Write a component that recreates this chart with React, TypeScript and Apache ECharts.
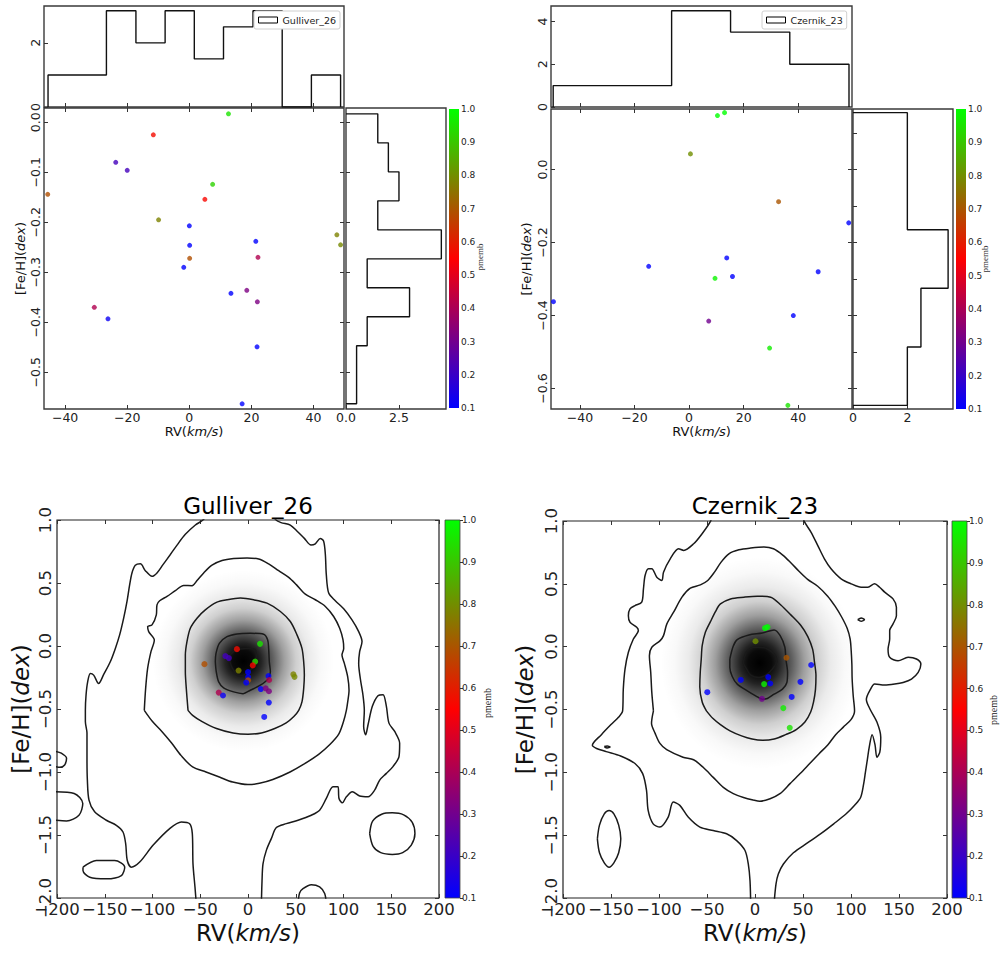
import React, { useEffect, useRef } from 'react';
import * as echarts from 'echarts';

// ---------------- data: Gulliver_26 ----------------
const G_RV = [12.6, -11.6, -23.7, -20.0, 7.5, -45.6, 5.0, -9.9, 0.0, 0.1, 0.1, -1.8, 21.4, 22.1, 47.5, 48.7, 13.4, 18.5, 21.9, -30.6, -26.2, 21.8, 17.0];
const G_FEH = [0.017, -0.025, -0.080, -0.096, -0.124, -0.144, -0.154, -0.195, -0.207, -0.246, -0.272, -0.290, -0.238, -0.270, -0.225, -0.245, -0.342, -0.336, -0.359, -0.370, -0.393, -0.449, -0.563];
const G_PMEMB = [0.95, 0.57, 0.22, 0.22, 0.92, 0.69, 0.56, 0.78, 0.1, 0.1, 0.69, 0.1, 0.1, 0.41, 0.78, 0.79, 0.1, 0.32, 0.32, 0.41, 0.12, 0.1, 0.1];
const G_RV_EDGES = [-45.5, -36.1, -26.7, -17.2, -7.8, 1.6, 11.0, 20.5, 29.9, 39.3, 48.7];
const G_RV_COUNTS = [1, 1, 3, 2, 3, 1.5, 2.5, 3, 0, 1];
const G_FEH_EDGES = [0.017, -0.041, -0.099, -0.157, -0.215, -0.273, -0.331, -0.389, -0.447, -0.505, -0.563];
const G_FEH_COUNTS = [1.5, 2, 2.5, 1.5, 4.5, 1, 3, 1, 0.5, 0.5];
const G_PEAK = [-5, -0.12];

// ---------------- data: Czernik_23 ----------------
const C_RV = [10.4, 13.0, 0.5, 32.8, 58.5, -14.8, 13.8, 15.9, 9.5, 47.3, -49.7, 38.2, 7.2, 29.5, 36.2];
const C_FEH = [0.148, 0.156, 0.043, -0.088, -0.146, -0.265, -0.242, -0.293, -0.298, -0.280, -0.362, -0.400, -0.415, -0.489, -0.646];
const C_PMEMB = [1.0, 1.0, 0.8, 0.7, 0.1, 0.1, 0.1, 0.1, 0.98, 0.1, 0.1, 0.1, 0.3, 0.97, 0.95];
const C_RV_EDGES = [-49.8, -28.1, -6.4, 15.2, 36.9, 58.6];
const C_RV_COUNTS = [1, 1, 4.5, 3.5, 2];
const C_FEH_EDGES = [0.156, -0.004, -0.165, -0.325, -0.486, -0.646];
const C_FEH_COUNTS = [2, 2, 3.5, 2.5, 2];
const C_PEAK = [5, -0.13];

// ---------------- tick values ----------------
const G_RV_TICKS = [-40, -20, 0, 20, 40];
const G_FEH_TICKS = [0, -0.1, -0.2, -0.3, -0.4, -0.5];
const G_HISTY_TICKS = [0, 2];
const G_HISTX_TICKS = [0, 2.5];
const C_RV_TICKS = [-40, -20, 0, 20, 40];
const C_FEH_TICKS = [0, -0.2, -0.4, -0.6];
const C_FEH_MINOR = [0.1, 0, -0.1, -0.2, -0.3, -0.4, -0.5, -0.6];
const C_HISTY_TICKS = [0, 2, 4];
const C_HISTX_TICKS = [0, 2];
const CB_TICKS = [0.1, 0.2, 0.3, 0.4, 0.5, 0.6, 0.7, 0.8, 0.9, 1.0];
const BIG_RV_TICKS = [-200, -150, -100, -50, 0, 50, 100, 150, 200];
const BIG_FEH_TICKS = [1, 0.5, 0, -0.5, -1, -1.5, -2];

// ---------------- contours: Gulliver_26 ----------------
const G_A = [[-20.2,-0.085],[-15,-0.045],[-8,-0.024],[0.7,-0.019],[7.7,-0.032],[8.7,-0.085],[6.6,-0.146],[1.7,-0.199],[-4.5,-0.231],[-9.8,-0.237],[-14,-0.205],[-17.8,-0.152],[-20.2,-0.085]];
const G_B = [[-34.2,-0.125],[-33.5,-0.059],[-30,0.021],[-22,0.074],[-11.5,0.096],[2.4,0.101],[16.4,0.093],[20.6,0.048],[21.6,-0.019],[22.3,-0.125],[23.4,-0.205],[20.9,-0.263],[12.9,-0.311],[2.4,-0.351],[-5.2,-0.378],[-15,-0.364],[-25.5,-0.332],[-30.7,-0.285],[-33.2,-0.205],[-34.2,-0.125]];
const G_C = [[-62.8,-0.511],[-64.6,-0.338],[-65.6,-0.205],[-65.6,-0.072],[-63.9,0.035],[-60.4,0.141],[-53.4,0.221],[-44.7,0.287],[-32.5,0.348],[-22,0.367],[-8,0.38],[5.9,0.367],[19.9,0.34],[33.9,0.274],[44.3,0.194],[51.3,0.088],[56.5,-0.019],[58.3,-0.125],[59,-0.231],[58.3,-0.338],[56.5,-0.444],[53.1,-0.511],[48,-0.56],[40,-0.61],[28,-0.655],[14,-0.69],[0,-0.7],[-15.7,-0.69],[-33,-0.655],[-48,-0.6],[-58,-0.55],[-62.8,-0.511]];
const G_D = [[-108.6,-0.511],[-107.2,-0.338],[-105.1,-0.178],[-101.6,-0.045],[-98.1,0.048],[-104,0.114],[-105.1,0.154],[-100.5,0.168],[-96,0.247],[-95.3,0.327],[-92.5,0.359],[-84.8,0.394],[-76.1,0.439],[-67.4,0.481],[-58.6,0.479],[-53.4,0.519],[-46.4,0.58],[-37.7,0.641],[-27.2,0.678],[-15,0.694],[-1,0.699],[11.2,0.691],[21.6,0.652],[32.1,0.598],[42.6,0.545],[50.6,0.487],[60,0.412],[70.5,0.367],[81,0.314],[89.7,0.234],[96,0.141],[99.5,0.048],[100.2,-0.019],[98.4,-0.072],[100.9,-0.138],[104.4,-0.245],[105.8,-0.351],[104.4,-0.444],[103,-0.511],[100,-0.6],[95,-0.7],[86,-0.78],[74,-0.86],[58,-0.94],[44,-1.0],[26,-1.06],[12,-1.09],[0,-1.1],[-16,-1.08],[-30,-1.04],[-44,-1.0],[-58,-0.96],[-70,-0.87],[-80,-0.77],[-90,-0.68],[-100,-0.6],[-108.6,-0.511]];
const G_E1 = [[-44,1.06],[-46.4,1.005],[-55.1,0.96],[-65.6,0.886],[-74.3,0.801],[-81.3,0.726],[-89,0.646],[-95.3,0.58],[-100.5,0.553],[-107.5,0.598],[-112.7,0.652],[-118,0.641],[-121.5,0.58],[-123.9,0.487],[-126.7,0.354],[-130.2,0.221],[-134.4,0.088],[-138.9,-0.019],[-144.2,-0.125],[-151.1,-0.226],[-156.4,-0.298],[-161.6,-0.231],[-165.1,-0.218],[-167.9,-0.285],[-169.6,-0.391],[-170.3,-0.511],[-170.3,-0.6],[-168.6,-0.691],[-168.6,-0.904],[-168.2,-1.064],[-166.5,-1.223],[-160.6,-1.316],[-148.3,-1.383],[-137.9,-1.423],[-130.9,-1.476],[-128.1,-1.569],[-126.4,-1.702],[-122.2,-1.755],[-113.4,-1.715],[-99.5,-1.582],[-82,-1.449],[-69.8,-1.396],[-61.1,-1.41],[-58.3,-1.489],[-57.6,-1.729],[-55.5,-1.915],[-54.1,-2.05]];
const G_E2 = [[14,-2.05],[14.7,-1.862],[15.7,-1.729],[19.2,-1.622],[24.4,-1.529],[29.7,-1.441],[40.1,-1.41],[52.4,-1.383],[66.3,-1.343],[75,-1.303],[82,-1.21],[89,-1.117],[94.2,-1.117],[95.3,-1.21],[98.8,-1.245],[103,-1.197],[109.2,-1.157],[116.9,-1.191],[125.7,-1.197],[132.6,-1.144],[137.9,-1.064],[144.9,-1.011],[151.8,-0.957],[158.1,-0.878],[158.8,-0.771],[153.6,-0.678],[147.6,-0.612],[144.9,-0.479],[141.4,-0.386],[136.1,-0.394],[130.2,-0.479],[125.7,-0.625],[123.2,-0.705],[121.1,-0.638],[121.8,-0.511],[120.4,-0.391],[117.6,-0.258],[115.9,-0.138],[116.9,-0.045],[119.4,0.035],[115.9,0.114],[108.9,0.207],[100.2,0.295],[91.4,0.359],[84.5,0.42],[82,0.566],[81,0.726],[79.2,0.832],[75.7,0.854],[70.5,0.811],[66,0.801],[59,0.854],[52,0.907],[44.3,0.96],[34.6,0.979],[28.6,1.005],[26,1.06]];
const G_L1 = [[-202,-0.835],[-195.5,-0.851],[-190,-0.891],[-192,-0.944],[-197,-0.963],[-202,-0.957]];
const G_L2 = [[-202,-1.157],[-182,-1.17],[-173,-1.25],[-177,-1.343],[-190,-1.388],[-202,-1.383]];
const G_L3 = [[-172.8,-1.755],[-158.8,-1.702],[-139.6,-1.702],[-129.1,-1.755],[-132.6,-1.822],[-148.3,-1.848],[-165.7,-1.835],[-172.8,-1.782],[-172.8,-1.755]];
const G_L4 = [[127.4,-1.489],[130.5,-1.39],[140,-1.335],[151.1,-1.324],[163,-1.34],[172,-1.4],[174.8,-1.489],[171,-1.58],[162,-1.64],[151.1,-1.654],[139,-1.64],[131,-1.59],[127.4,-1.489]];
const G_L5 = [[52.4,-2.05],[54,-1.96],[57.6,-1.926],[66.3,-1.894],[75,-1.912],[80.3,-1.965],[82,-2.05]];

// ---------------- contours: Czernik_23 ----------------
const C_A = [[-11.5,-0.098],[-8,-0.032],[0.7,-0.005],[11.2,-0.013],[19.9,-0.059],[22.7,-0.112],[18.2,-0.178],[11.2,-0.226],[4.2,-0.245],[-4.5,-0.226],[-8.7,-0.178],[-12.2,-0.125],[-11.5,-0.098]];
const C_B = [[-26.2,-0.098],[-22.7,0.003],[-18.5,0.056],[-6.3,0.093],[7.7,0.109],[19.9,0.133],[26.2,0.088],[31.1,-0.005],[32.1,-0.098],[33.9,-0.205],[33.2,-0.285],[28.6,-0.338],[19.9,-0.378],[12.9,-0.412],[7.7,-0.418],[0.7,-0.391],[-8,-0.351],[-18.5,-0.298],[-23.7,-0.237],[-26.2,-0.165],[-26.2,-0.098]];
const C_C = [[-50.6,-0.511],[-55,-0.44],[-57.5,-0.32],[-57,-0.2],[-56,-0.1],[-55,0.008],[-51.7,0.114],[-46.4,0.199],[-41.2,0.279],[-36,0.34],[-25.5,0.38],[-11.5,0.394],[2.4,0.402],[16.4,0.394],[26.9,0.332],[37.3,0.253],[47.8,0.168],[55,0.08],[60,-0.02],[62,-0.125],[63.5,-0.23],[63,-0.34],[61,-0.44],[58,-0.52],[52,-0.6],[43,-0.66],[32,-0.7],[20,-0.735],[8,-0.745],[-3,-0.735],[-14,-0.71],[-26,-0.67],[-36,-0.62],[-44,-0.57],[-50.6,-0.511]];
const C_D = [[-105.8,-0.511],[-107.5,-0.364],[-108.6,-0.205],[-110,-0.072],[-107.5,-0.005],[-98.8,0.048],[-95.3,0.088],[-91.8,0.181],[-84.8,0.274],[-76.1,0.394],[-67.4,0.465],[-56.9,0.492],[-49.2,0.527],[-42.2,0.593],[-35.3,0.673],[-27.2,0.739],[-16.8,0.771],[-4.5,0.785],[9.4,0.793],[19.2,0.779],[28.6,0.731],[37.3,0.668],[46.1,0.598],[54.8,0.535],[65.3,0.481],[75.7,0.402],[83.4,0.322],[90.4,0.234],[96,0.146],[99.1,0.061],[100.2,-0.032],[100.9,-0.138],[101.2,-0.258],[102.3,-0.391],[103.7,-0.511],[100,-0.58],[92,-0.64],[84,-0.7],[76,-0.78],[67,-0.85],[57,-0.93],[47,-1.01],[36.5,-1.09],[26,-1.17],[15.7,-1.21],[5,-1.23],[-2,-1.22],[-12,-1.2],[-22.6,-1.17],[-33,-1.12],[-43.5,-1.04],[-54,-0.96],[-64,-0.9],[-75,-0.88],[-92,-0.82],[-99,-0.77],[-104,-0.69],[-107.8,-0.61],[-105.8,-0.511]];
const C_E1 = [[-44,1.06],[-46.4,0.997],[-55.1,0.899],[-63.9,0.819],[-74.3,0.766],[-79.6,0.779],[-88.3,0.699],[-95.3,0.593],[-97,0.527],[-102.3,0.553],[-107.5,0.62],[-111,0.62],[-114.5,0.566],[-116.2,0.46],[-118,0.354],[-125,0.327],[-130.2,0.301],[-131.9,0.247],[-130.2,0.194],[-123.2,0.154],[-121.5,0.128],[-126.7,0.061],[-131.9,-0.045],[-135.4,-0.178],[-137.2,-0.338],[-137.9,-0.511],[-142,-0.56],[-150,-0.62],[-160,-0.7],[-169.4,-0.785],[-165,-0.81],[-155,-0.835],[-140,-0.87],[-125,-0.93],[-117,-1.01],[-113,-1.144],[-111.3,-1.303],[-106.1,-1.41],[-99.1,-1.436],[-90.4,-1.356],[-85.2,-1.237],[-78.3,-1.263],[-69.6,-1.356],[-57.4,-1.436],[-43.5,-1.463],[-29.6,-1.489],[-19.1,-1.543],[-10.4,-1.622],[-7,-1.729],[-5.2,-1.862],[-4.5,-2.05]];
const C_E2 = [[19.8,-2.05],[21.9,-1.888],[24.3,-1.809],[29.6,-1.729],[40,-1.64],[55,-1.56],[70,-1.48],[82,-1.41],[95,-1.33],[104,-1.26],[110,-1.2],[113,-1.1],[115,-1.0],[117,-0.9],[119,-0.8],[122,-0.7],[125,-0.78],[127,-0.88],[130,-0.84],[131,-0.72],[127,-0.6],[120,-0.5],[116,-0.42],[120.4,-0.338],[124.6,-0.298],[135,-0.306],[145.5,-0.298],[154.3,-0.285],[163,-0.258],[170,-0.205],[172.8,-0.138],[168.2,-0.098],[159.5,-0.085],[149,-0.112],[140.3,-0.085],[138.6,-0.019],[140.3,0.061],[140.3,0.128],[143.8,0.181],[147.3,0.247],[147.3,0.314],[143.8,0.38],[135.1,0.434],[129.8,0.473],[124.6,0.5],[117.6,0.473],[110.6,0.473],[100.2,0.5],[89.7,0.54],[79.2,0.62],[72.3,0.699],[65.3,0.806],[58.3,0.912],[51.3,0.997],[49,1.06]];
const C_L1 = [[107,0.215],[110.6,0.228],[114,0.215],[110.6,0.202],[107,0.215]];
const C_L2 = [[-157,-0.795],[-154,-0.79],[-151,-0.798],[-154,-0.806],[-157,-0.795]];
const C_L3 = [[-164.2,-1.529],[-162,-1.42],[-157,-1.33],[-152,-1.303],[-147,-1.33],[-142,-1.42],[-139.8,-1.529],[-142,-1.64],[-147,-1.72],[-152,-1.755],[-157,-1.72],[-162,-1.64],[-164.2,-1.529]];

const G_CONTOURS = [G_A, G_B, G_C, G_D, G_E1, G_E2, G_L1, G_L2, G_L3, G_L4, G_L5];
const C_CONTOURS = [C_A, C_B, C_C, C_D, C_E1, C_E2, C_L1, C_L2, C_L3];

// ---------------- helpers ----------------
const FONT = 'DejaVu Sans';
const fmt = (d: number) => (v: number) => {
  const r = Math.abs(v) < 1e-9 ? 0 : v;
  return r.toFixed(d).replace('-', '\u2212');
};
const stepX = (edges: number[], counts: number[]) => {
  const pts: number[][] = [[edges[0], 0]];
  counts.forEach((c, i) => { pts.push([edges[i], c]); pts.push([edges[i + 1], c]); });
  pts.push([edges[edges.length - 1], 0]);
  return pts;
};
const stepY = (edges: number[], counts: number[]) => {
  const pts: number[][] = [[0, edges[0]]];
  counts.forEach((c, i) => { pts.push([c, edges[i]]); pts.push([c, edges[i + 1]]); });
  pts.push([0, edges[edges.length - 1]]);
  return pts;
};

function mkAxis(gridIndex: number, position: string, min: number, max: number, o: any = {}) {
  const a: any = {
    type: 'value', gridIndex, position, min, max,
    axisLine: { show: false, onZero: false }, splitLine: { show: false },
    axisTick: { show: false }, axisLabel: { show: false },
  };
  if (o.hidden) a.show = false;
  if (o.ticks) a.axisTick = { show: true, inside: !o.out, length: o.tl ?? 4, customValues: o.ticks, lineStyle: { color: '#333', width: 1 } };
  if (o.labels) a.axisLabel = { show: true, customValues: o.labels, formatter: o.fmt, fontSize: o.fs, color: '#222', fontFamily: FONT, margin: o.margin ?? 3, rotate: o.rotate ?? 0 };
  if (o.name) {
    a.name = o.name; a.nameLocation = 'middle'; a.nameGap = o.gap;
    a.nameTextStyle = { fontSize: o.nfs, color: '#111', fontFamily: FONT, rich: { i: { fontSize: o.nfs, fontStyle: 'italic', fontFamily: FONT, color: '#111' } } };
  }
  return a;
}

const brg = () => new echarts.graphic.LinearGradient(0, 1, 0, 0, [
  { offset: 0, color: '#0000ff' }, { offset: 0.5, color: '#ff0000' }, { offset: 1, color: '#00ff00' },
]);
const blob = () => new echarts.graphic.RadialGradient(0.5, 0.5, 0.5, [
  { offset: 0, color: 'rgba(0,0,0,1)' },
  { offset: 0.12, color: 'rgba(0,0,0,0.96)' },
  { offset: 0.2, color: 'rgba(0,0,0,0.86)' },
  { offset: 0.33, color: 'rgba(0,0,0,0.62)' },
  { offset: 0.45, color: 'rgba(0,0,0,0.38)' },
  { offset: 0.58, color: 'rgba(0,0,0,0.19)' },
  { offset: 0.72, color: 'rgba(0,0,0,0.08)' },
  { offset: 0.86, color: 'rgba(0,0,0,0.025)' },
  { offset: 1, color: 'rgba(0,0,0,0)' },
]);

function buildOption() {
  const gTop = { show: true, borderColor: '#3a3a3a', borderWidth: 1.4 };
  const gBig = { show: true, borderColor: '#222', borderWidth: 1.2 };
  const grid = [
    { left: 44, top: 6, width: 300, height: 101, ...gTop },
    { left: 44, top: 108, width: 300, height: 301, ...gTop },
    { left: 346, top: 108, width: 100, height: 301, ...gTop },
    { left: 449, top: 109, width: 10, height: 299, show: true, borderWidth: 0, backgroundColor: brg() },
    { left: 551, top: 6, width: 301, height: 101, ...gTop },
    { left: 551, top: 109, width: 301, height: 300, ...gTop },
    { left: 853, top: 109, width: 100, height: 300, ...gTop },
    { left: 956, top: 109, width: 10, height: 300, show: true, borderWidth: 0, backgroundColor: brg() },
    { left: 57, top: 520, width: 382, height: 378, ...gBig },
    { left: 445, top: 520, width: 15, height: 378, show: true, borderColor: '#444', borderWidth: 0.8, backgroundColor: brg() },
    { left: 563, top: 521, width: 384, height: 377, ...gBig },
    { left: 952, top: 521, width: 15, height: 377, show: true, borderColor: '#444', borderWidth: 0.8, backgroundColor: brg() },
  ];

  const GX = [-46.8, 49.8], GY = [-0.5734, 0.0287];
  const CX = [-50.6, 59.7], CY = [-0.656, 0.166];
  const rvName = 'RV({i|km/s})';
  const fehName = '[Fe/H]({i|dex})';

  const xAxis = [
    mkAxis(0, 'bottom', GX[0], GX[1], { ticks: G_RV_TICKS }),
    mkAxis(1, 'bottom', GX[0], GX[1], { ticks: G_RV_TICKS, labels: G_RV_TICKS, fmt: fmt(0), fs: 12.5, margin: 2, name: rvName, gap: 13, nfs: 13 }),
    mkAxis(1, 'top', GX[0], GX[1], { ticks: G_RV_TICKS }),
    mkAxis(2, 'bottom', 0, 4.72, { ticks: G_HISTX_TICKS, labels: G_HISTX_TICKS, fmt: fmt(1), fs: 12.5, margin: 2 }),
    mkAxis(3, 'bottom', 0, 1, { hidden: true }),
    mkAxis(4, 'bottom', CX[0], CX[1], { ticks: C_RV_TICKS }),
    mkAxis(5, 'bottom', CX[0], CX[1], { ticks: C_RV_TICKS, labels: C_RV_TICKS, fmt: fmt(0), fs: 12.5, margin: 2, name: rvName, gap: 13, nfs: 13 }),
    mkAxis(5, 'top', CX[0], CX[1], { ticks: C_RV_TICKS }),
    mkAxis(6, 'bottom', 0, 3.68, { ticks: C_HISTX_TICKS, labels: C_HISTX_TICKS, fmt: fmt(0), fs: 12.5, margin: 2 }),
    mkAxis(7, 'bottom', 0, 1, { hidden: true }),
    mkAxis(8, 'bottom', -200, 200, { ticks: BIG_RV_TICKS, labels: BIG_RV_TICKS, fmt: fmt(0), fs: 16.5, margin: 3, name: rvName, gap: 23, nfs: 23 }),
    mkAxis(8, 'top', -200, 200, { ticks: BIG_RV_TICKS }),
    mkAxis(9, 'bottom', 0, 1, { hidden: true }),
    mkAxis(10, 'bottom', -200, 200, { ticks: BIG_RV_TICKS, labels: BIG_RV_TICKS, fmt: fmt(0), fs: 16.5, margin: 3, name: rvName, gap: 23, nfs: 23 }),
    mkAxis(10, 'top', -200, 200, { ticks: BIG_RV_TICKS }),
    mkAxis(11, 'bottom', 0, 1, { hidden: true }),
  ];
  const yAxis = [
    mkAxis(0, 'left', 0, 3.15, { ticks: G_HISTY_TICKS, labels: G_HISTY_TICKS, fmt: fmt(0), fs: 12.5, margin: 2, rotate: 90 }),
    mkAxis(1, 'left', GY[0], GY[1], { ticks: G_FEH_TICKS, labels: G_FEH_TICKS, fmt: fmt(1), fs: 12.5, margin: 2, rotate: 90, name: fehName, gap: 17, nfs: 13 }),
    mkAxis(1, 'right', GY[0], GY[1], { ticks: G_FEH_TICKS }),
    mkAxis(2, 'left', GY[0], GY[1], { ticks: G_FEH_TICKS }),
    mkAxis(3, 'right', 0.1, 1.0, { labels: CB_TICKS, fmt: fmt(1), fs: 9, margin: 2 }),
    mkAxis(4, 'left', 0, 4.72, { ticks: C_HISTY_TICKS, labels: C_HISTY_TICKS, fmt: fmt(0), fs: 12.5, margin: 2, rotate: 90 }),
    mkAxis(5, 'left', CY[0], CY[1], { ticks: C_FEH_TICKS, labels: C_FEH_TICKS, fmt: fmt(1), fs: 12.5, margin: 2, rotate: 90, name: fehName, gap: 18, nfs: 13 }),
    mkAxis(5, 'right', CY[0], CY[1], { ticks: C_FEH_TICKS }),
    mkAxis(6, 'left', CY[0], CY[1], { ticks: C_FEH_MINOR }),
    mkAxis(7, 'right', 0.1, 1.0, { labels: CB_TICKS, fmt: fmt(1), fs: 9, margin: 2 }),
    mkAxis(8, 'left', -2, 1, { ticks: BIG_FEH_TICKS, labels: BIG_FEH_TICKS, fmt: fmt(1), fs: 16.5, margin: 3, rotate: 90, name: fehName, gap: 25, nfs: 23 }),
    mkAxis(8, 'right', -2, 1, { ticks: BIG_FEH_TICKS }),
    mkAxis(9, 'right', 0.1, 1.0, { ticks: CB_TICKS, out: true, tl: 3, labels: CB_TICKS, fmt: fmt(1), fs: 9, margin: 2 }),
    mkAxis(10, 'left', -2, 1, { ticks: BIG_FEH_TICKS, labels: BIG_FEH_TICKS, fmt: fmt(1), fs: 16.5, margin: 3, rotate: 90, name: fehName, gap: 27, nfs: 23 }),
    mkAxis(10, 'right', -2, 1, { ticks: BIG_FEH_TICKS }),
    mkAxis(11, 'right', 0.1, 1.0, { ticks: CB_TICKS, out: true, tl: 3, labels: CB_TICKS, fmt: fmt(1), fs: 9, margin: 2 }),
  ];

  const series: any[] = [];
  const memberIdx: number[] = [];
  const line = (xi: number, data: number[][], extra: any = {}) => ({
    type: 'line', xAxisIndex: xi, yAxisIndex: xi, data, symbol: 'none', showSymbol: false,
    silent: true, clip: true, lineStyle: { color: '#111', width: 1.4 }, ...extra,
  });
  const pts = (rv: number[], feh: number[], pm: number[]) => rv.map((x, i) => [x, feh[i], pm[i]]);
  const members = (xi: number, data: number[][], size: number) => {
    memberIdx.push(series.length);
    series.push({ type: 'scatter', xAxisIndex: xi, yAxisIndex: xi, data, symbolSize: size, silent: true, z: 5 });
  };

  // top-left
  series.push(line(0, stepX(G_RV_EDGES, G_RV_COUNTS), { name: 'Gulliver_26' }));
  members(1, pts(G_RV, G_FEH, G_PMEMB), 5);
  series.push(line(3, stepY(G_FEH_EDGES, G_FEH_COUNTS)));
  // top-right
  series.push(line(5, stepX(C_RV_EDGES, C_RV_COUNTS), { name: 'Czernik_23' }));
  members(6, pts(C_RV, C_FEH, C_PMEMB), 5);
  series.push(line(8, stepY(C_FEH_EDGES, C_FEH_COUNTS)));
  // bottom-left
  series.push({ type: 'scatter', xAxisIndex: 10, yAxisIndex: 10, data: [G_PEAK], symbolSize: [182, 182], itemStyle: { color: blob(), opacity: 1 }, silent: true, z: 1 });
  G_CONTOURS.forEach((c) => series.push(line(10, c, { smooth: 0.3, z: 3, lineStyle: { color: '#1a1a1a', width: 1.5 } })));
  members(10, pts(G_RV, G_FEH, G_PMEMB), 6);
  // bottom-right
  series.push({ type: 'scatter', xAxisIndex: 13, yAxisIndex: 13, data: [C_PEAK], symbolSize: [198, 212], itemStyle: { color: blob(), opacity: 1 }, silent: true, z: 1 });
  C_CONTOURS.forEach((c) => series.push(line(13, c, { smooth: 0.3, z: 3, lineStyle: { color: '#1a1a1a', width: 1.5 } })));
  members(13, pts(C_RV, C_FEH, C_PMEMB), 6);

  const legendBase = {
    selectedMode: false, orient: 'horizontal', padding: [4, 4], itemWidth: 19, itemHeight: 6, itemGap: 5,
    textStyle: { fontSize: 9.5, fontFamily: FONT, color: '#222' },
    borderColor: '#d0d0d0', borderWidth: 1, borderRadius: 2, backgroundColor: '#fff',
  };
  const legIcon = { color: 'rgba(0,0,0,0)', borderColor: '#000', borderWidth: 1 };

  const txt = (x: number, y: number, text: string, fs: number, family: string, rot = 0, fill = '#000') => ({
    type: 'text', x, y, rotation: rot, silent: true,
    style: { text, fontSize: fs, fontFamily: family, fill, align: 'center', verticalAlign: 'middle' },
  });

  return {
    animation: false,
    textStyle: { fontFamily: FONT },
    grid, xAxis, yAxis, series,
    legend: [
      { ...legendBase, left: 254, top: 11, data: [{ name: 'Gulliver_26', icon: 'rect', itemStyle: legIcon }] },
      { ...legendBase, left: 762, top: 11, data: [{ name: 'Czernik_23', icon: 'rect', itemStyle: legIcon }] },
    ],
    visualMap: {
      type: 'continuous', show: false, min: 0.1, max: 1.0, dimension: 2, seriesIndex: memberIdx,
      inRange: { color: ['#0000ff', '#ff0000', '#00ff00'] },
    },
    graphic: [
      txt(248, 506, 'Gulliver_26', 23, FONT),
      txt(755, 506, 'Czernik_23', 23, FONT),
      txt(480, 257, 'pmemb', 9, 'Liberation Serif', Math.PI / 2, '#333'),
      txt(985, 259, 'pmemb', 9, 'Liberation Serif', Math.PI / 2, '#333'),
      txt(487, 703, 'pmemb', 10, 'Liberation Serif', Math.PI / 2, '#222'),
      txt(993, 710, 'pmemb', 10, 'Liberation Serif', Math.PI / 2, '#222'),
    ],
  };
}

export default function App() {
  const ref = useRef<HTMLDivElement>(null);
  useEffect(() => {
    const chart = echarts.init(ref.current!, null, { renderer: 'svg' });
    chart.setOption(buildOption() as any);
    return () => chart.dispose();
  }, []);
  return <div ref={ref} style={{ position: 'absolute', left: 0, top: 0, width: 1001, height: 954, background: '#fff' }} />;
}
